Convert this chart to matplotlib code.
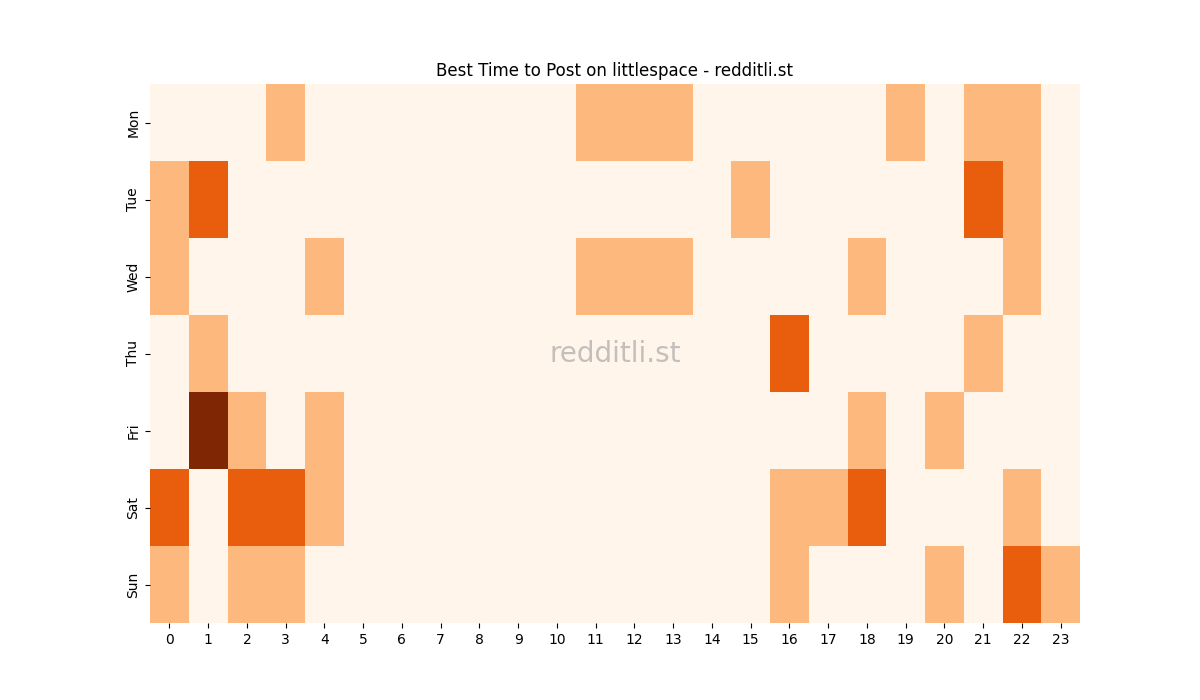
import matplotlib
matplotlib.use("Agg")
import matplotlib.pyplot as plt
import seaborn as sns
import numpy as np

days = ["Mon", "Tue", "Wed", "Thu", "Fri", "Sat", "Sun"]
hours = list(range(24))
mon = [0,0,0,1,0,0,0,0,0,0,0,1,1,1,0,0,0,0,0,1,0,1,1,0]
tue = [1,2,0,0,0,0,0,0,0,0,0,0,0,0,0,1,0,0,0,0,0,2,1,0]
wed = [1,0,0,0,1,0,0,0,0,0,0,1,1,1,0,0,0,0,1,0,0,0,1,0]
thu = [0,1,0,0,0,0,0,0,0,0,0,0,0,0,0,0,2,0,0,0,0,1,0,0]
fri = [0,3,1,0,1,0,0,0,0,0,0,0,0,0,0,0,0,0,1,0,1,0,0,0]
sat = [2,0,2,2,1,0,0,0,0,0,0,0,0,0,0,0,1,1,2,0,0,0,1,0]
sun = [1,0,1,1,0,0,0,0,0,0,0,0,0,0,0,0,1,0,0,0,1,0,2,1]

data = np.array([mon, tue, wed, thu, fri, sat, sun])

fig, ax = plt.subplots(figsize=(12, 7), dpi=100)
sns.heatmap(data, cmap="Oranges", cbar=False, ax=ax, vmin=0, vmax=3,
            xticklabels=hours, yticklabels=days)
ax.set_title("Best Time to Post on littlespace - redditli.st")
ax.text(0.5, 0.5, "redditli.st", transform=ax.transAxes, ha="center", va="center",
        fontsize=20, color="#8a8a8a", alpha=0.5)
plt.setp(ax.get_yticklabels(), rotation=90, va="center")
plt.setp(ax.get_xticklabels(), rotation=0)
fig.savefig("out.png")
